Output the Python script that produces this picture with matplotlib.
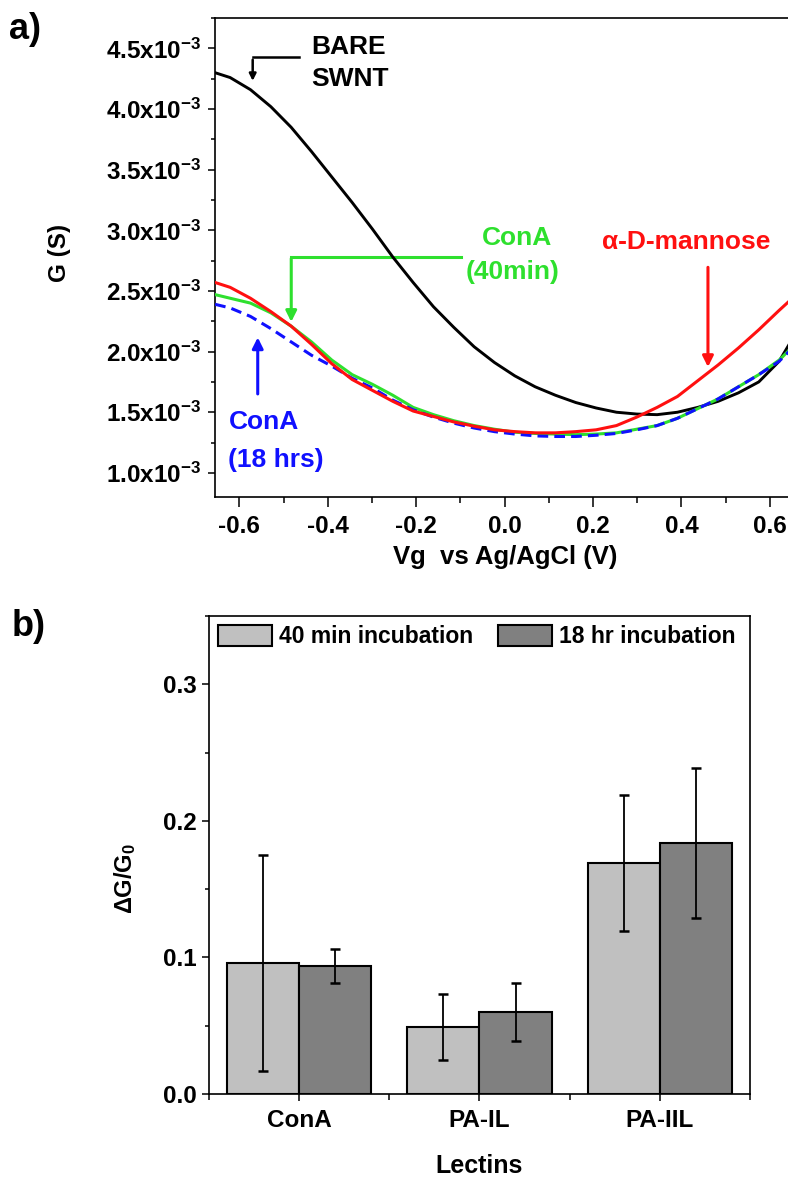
import matplotlib
matplotlib.use("Agg")
import matplotlib.pyplot as plt
from matplotlib.ticker import FuncFormatter, MultipleLocator, FixedLocator
import numpy as np

plt.rcParams['font.family'] = 'Liberation Sans'
plt.rcParams['font.weight'] = 'bold'
plt.rcParams['axes.labelweight'] = 'bold'
plt.rcParams['mathtext.fontset'] = 'custom'
plt.rcParams['mathtext.rm'] = 'Liberation Sans:bold'
plt.rcParams['mathtext.bf'] = 'Liberation Sans:bold'
plt.rcParams['mathtext.it'] = 'Liberation Sans:bold'
plt.rcParams['mathtext.default'] = 'rm'

######################################
# data
######################################
# panel a: conductance vs gate voltage, G in units of 1e-3 S
vg = [-0.655, -0.621, -0.575, -0.529, -0.483, -0.437, -0.391, -0.345, -0.299, -0.253,
      -0.207, -0.161, -0.115, -0.069, -0.023, 0.023, 0.069, 0.115, 0.161, 0.207,
      0.253, 0.299, 0.345, 0.391, 0.437, 0.483, 0.529, 0.575, 0.621, 0.660]
g_bare = [4.30, 4.26, 4.16, 4.02, 3.85, 3.65, 3.44, 3.23, 3.01, 2.78,
          2.57, 2.37, 2.20, 2.04, 1.91, 1.80, 1.71, 1.64, 1.58, 1.535,
          1.50, 1.485, 1.48, 1.50, 1.54, 1.59, 1.66, 1.75, 1.92, 2.16]
g_cona_40 = [2.47, 2.44, 2.40, 2.32, 2.21, 2.08, 1.93, 1.81, 1.73, 1.64,
             1.54, 1.48, 1.43, 1.39, 1.36, 1.335, 1.325, 1.32, 1.315, 1.32,
             1.33, 1.36, 1.39, 1.45, 1.53, 1.61, 1.71, 1.81, 1.93, 2.07]
g_cona_18 = [2.39, 2.36, 2.29, 2.19, 2.08, 1.97, 1.88, 1.78, 1.70, 1.60,
             1.52, 1.46, 1.41, 1.37, 1.34, 1.32, 1.305, 1.30, 1.30, 1.31,
             1.325, 1.355, 1.39, 1.45, 1.53, 1.61, 1.71, 1.81, 1.92, 2.06]
g_mannose = [2.57, 2.53, 2.44, 2.33, 2.21, 2.06, 1.90, 1.77, 1.68, 1.59,
             1.51, 1.465, 1.42, 1.385, 1.355, 1.34, 1.33, 1.33, 1.34, 1.355,
             1.39, 1.46, 1.54, 1.63, 1.76, 1.89, 2.03, 2.18, 2.34, 2.47]

# panel b: response per lectin
lectins = ["ConA", "PA-IL", "PA-IIL"]
resp_40min = [0.096, 0.049, 0.169]
err_40min = [0.079, 0.024, 0.050]
resp_18hr = [0.094, 0.060, 0.184]
err_18hr = [0.0125, 0.021, 0.055]

FS = 17.5
FS_ANN = 19
GREEN = '#2ee02e'
RED = '#ff1010'
BLUE = '#1010ff'

fig = plt.figure(figsize=(7.88, 11.78), dpi=100)

######################################
# panel a
######################################
ax1 = fig.add_axes([0.273, 0.578, 0.732, 0.4066])
sc = 1e-3
ax1.plot(vg, np.array(g_bare) * sc, color='black', lw=2.1, zorder=3)
ax1.plot(vg, np.array(g_cona_40) * sc, color=GREEN, lw=2.2, zorder=4)
ax1.plot(vg, np.array(g_cona_18) * sc, color=BLUE, lw=2.2, ls=(0, (3.5, 2)), zorder=5)
ax1.plot(vg, np.array(g_mannose) * sc, color=RED, lw=2.2, zorder=6)

ax1.set_xlim(-0.655, 0.65)
ax1.set_ylim(0.80e-3, 4.75e-3)
ax1.xaxis.set_major_locator(MultipleLocator(0.2))
ax1.xaxis.set_minor_locator(MultipleLocator(0.1))
ax1.yaxis.set_major_locator(MultipleLocator(0.5e-3))
ax1.yaxis.set_minor_locator(MultipleLocator(0.25e-3))
ax1.xaxis.set_major_formatter(FuncFormatter(lambda v, p: f"{v:.1f}".replace("-0.0", "0.0")))
ax1.yaxis.set_major_formatter(FuncFormatter(lambda v, p: f"{v*1e3:.1f}x10$^{{-3}}$"))
ax1.tick_params(which='both', direction='out', width=1.1, labelsize=FS, top=False, right=False)
ax1.tick_params(axis='x', which='major', length=7, pad=6)
ax1.tick_params(axis='x', which='minor', length=4)
ax1.tick_params(axis='y', which='major', length=5, pad=5)
ax1.tick_params(axis='y', which='minor', length=3)
for s in ax1.spines.values():
    s.set_linewidth(1.2)
ax1.spines['right'].set_visible(False)

ax1.set_ylabel("G (S)", fontsize=FS)
ax1.yaxis.set_label_coords(-0.25, 0.51)
ax1.set_xlabel("Vg  vs Ag/AgCl (V)", fontsize=18.5)
ax1.xaxis.set_label_coords(0.503, -0.1)

# annotations
ax1.text(-0.437, 4.51e-3, "BARE", fontsize=FS_ANN, ha='left', va='center')
ax1.text(-0.437, 4.245e-3, "SWNT", fontsize=FS_ANN, ha='left', va='center')
ax1.plot([-0.4644, -0.570], [4.427e-3, 4.427e-3], color='black', lw=1.8)
ax1.annotate("", xy=(-0.570, 4.21e-3), xytext=(-0.570, 4.43e-3),
             arrowprops=dict(arrowstyle='-|>', color='black', lw=1.8, mutation_scale=10))

ax1.text(0.0276, 2.94e-3, "ConA", fontsize=FS_ANN, color=GREEN, ha='center', va='center')
ax1.text(0.018, 2.66e-3, "(40min)", fontsize=FS_ANN, color=GREEN, ha='center', va='center')
ax1.plot([-0.0989, -0.4828], [2.784e-3, 2.784e-3], color=GREEN, lw=2.2)
ax1.annotate("", xy=(-0.4828, 2.222e-3), xytext=(-0.4828, 2.79e-3),
             arrowprops=dict(arrowstyle='-|>', color=GREEN, lw=2.2, mutation_scale=16))

ax1.text(0.4115, 2.907e-3, "\u03b1-D-mannose", fontsize=FS_ANN, color=RED, ha='center', va='center')
ax1.annotate("", xy=(0.46, 1.85e-3), xytext=(0.46, 2.718e-3),
             arrowprops=dict(arrowstyle='-|>', color=RED, lw=2.2, mutation_scale=16))

ax1.annotate("", xy=(-0.5586, 2.14e-3), xytext=(-0.5586, 1.628e-3),
             arrowprops=dict(arrowstyle='-|>', color=BLUE, lw=2.2, mutation_scale=16))
ax1.text(-0.625, 1.42e-3, "ConA", fontsize=FS_ANN, color=BLUE, ha='left', va='center')
ax1.text(-0.625, 1.107e-3, "(18 hrs)", fontsize=FS_ANN, color=BLUE, ha='left', va='center')

fig.text(0.012, 0.975, "a)", fontsize=26, ha='left', va='center')

######################################
# panel b
######################################
ax2 = fig.add_axes([0.265, 0.0713, 0.687, 0.4058])
x = np.arange(len(lectins))
w = 0.4
ax2.bar(x - w / 2, resp_40min, w, color='#c0c0c0', edgecolor='black', lw=1.5,
        label="40 min incubation")
ax2.bar(x + w / 2, resp_18hr, w, color='#808080', edgecolor='black', lw=1.5,
        label="18 hr incubation")
ax2.errorbar(x - w / 2, resp_40min, yerr=err_40min, fmt='none', ecolor='black',
             elinewidth=1.3, capsize=3.5, capthick=1.8)
ax2.errorbar(x + w / 2, resp_18hr, yerr=err_18hr, fmt='none', ecolor='black',
             elinewidth=1.3, capsize=3.5, capthick=1.8)

ax2.set_xlim(-0.5, 2.5)
ax2.set_ylim(0, 0.35)
ax2.set_xticks(x)
ax2.set_xticklabels(lectins)
ax2.xaxis.set_minor_locator(FixedLocator([-0.5, 0.5, 1.5, 2.5]))
ax2.yaxis.set_major_locator(MultipleLocator(0.1))
ax2.yaxis.set_minor_locator(MultipleLocator(0.05))
ax2.yaxis.set_major_formatter(FuncFormatter(lambda v, p: f"{v:.1f}"))
ax2.tick_params(which='both', direction='out', width=1.1, labelsize=FS, top=False, right=False)
ax2.tick_params(axis='x', which='major', length=5, pad=6)
ax2.tick_params(axis='x', which='minor', length=4)
ax2.tick_params(axis='y', which='major', length=5, pad=4)
ax2.tick_params(axis='y', which='minor', length=3)
for s in ax2.spines.values():
    s.set_linewidth(1.2)

ax2.set_ylabel("\u0394G/G$_0$", fontsize=17)
ax2.yaxis.set_label_coords(-0.131, 0.45)
ax2.set_xlabel("Lectins", fontsize=18)
ax2.xaxis.set_label_coords(0.5, -0.125)

ax2.legend(loc='upper left', bbox_to_anchor=(0, 1), ncol=2, frameon=False, fontsize=16.5,
           borderaxespad=0.1, borderpad=0.3, handlelength=2.35, handleheight=1.0,
           handletextpad=0.3, columnspacing=1.1)

fig.text(0.015, 0.468, "b)", fontsize=26, ha='left', va='center')

fig.savefig("out.png", dpi=100)
